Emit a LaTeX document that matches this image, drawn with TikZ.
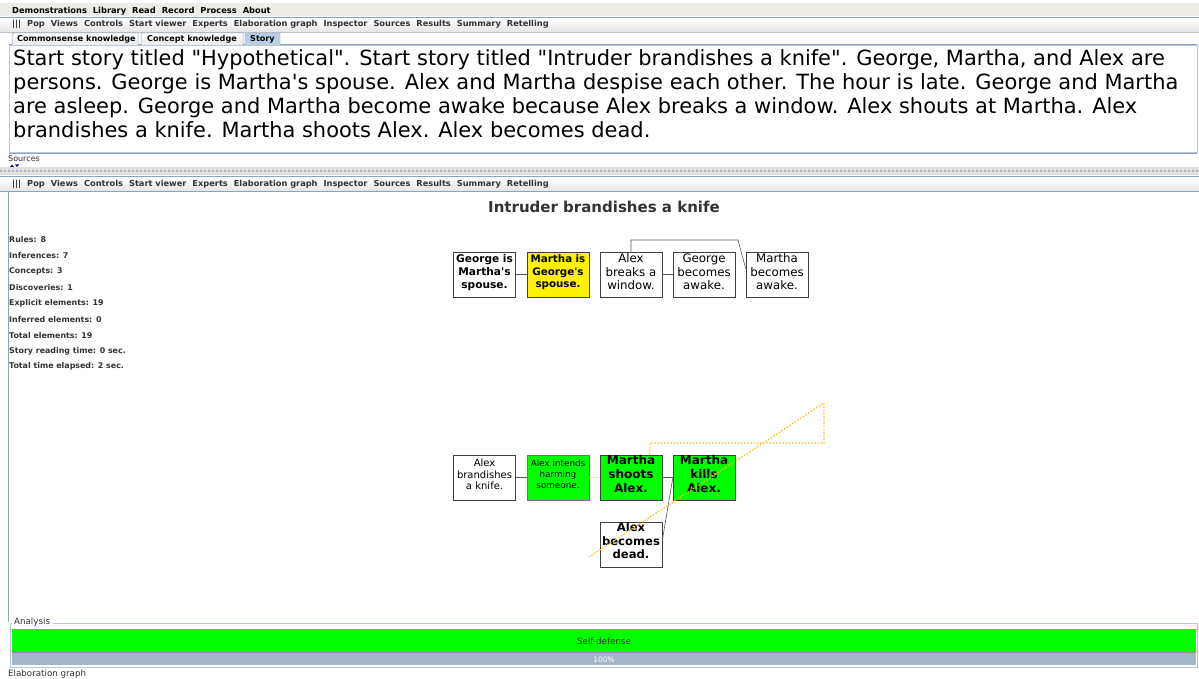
\documentclass[tikz,border=0pt]{standalone}
\usepackage{fontspec}
\setmainfont[Ligatures=TeXOff]{DejaVu Sans}
\usetikzlibrary{calc}
\definecolor{menubg}{HTML}{EDECE7}
\definecolor{edgeblue}{HTML}{8EA3B8}
\definecolor{frameblue}{HTML}{B8C8DA}
\definecolor{tabsel}{HTML}{B8CFE5}
\definecolor{limegreen}{HTML}{00FF00}
\definecolor{barblue}{HTML}{A3B5CB}
\definecolor{gold}{HTML}{FFC21A}
\definecolor{darktext}{HTML}{333333}
\tikzset{
  menutext/.style={anchor=west, inner sep=0pt, font=\bfseries\fontsize{8.3}{9}\selectfont, text=black},
  tooltext/.style={anchor=west, inner sep=0pt, font=\bfseries\fontsize{8.25}{9}\selectfont, text=darktext},
  stat/.style={anchor=west, inner sep=0pt, font=\bfseries\fontsize{7.9}{9}\selectfont, text=darktext},
  storyline/.style={anchor=base west, inner sep=0pt, font=\fontsize{20.95}{24}\selectfont},
  small/.style={anchor=west, inner sep=0pt, font=\fontsize{8.7}{9}\selectfont, text=darktext},
  box/.style={draw=black!75, line width=0.6pt, minimum width=62pt, minimum height=45pt,
    inner sep=0pt, align=center, text width=62pt, execute at end node={\par\vspace{#1}}},
  box/.default=5pt,
  link/.style={draw=black!65, line width=0.6pt},
  golddot/.style={draw=gold, line width=1.2pt, dash pattern=on 1.6pt off 1.6pt},
  tab/.style={draw=edgeblue, line width=0.5pt, top color=white, bottom color=black!8}
}
\begin{document}
\begin{tikzpicture}[x=1pt,y=-1pt]
\useasboundingbox (0,0) rectangle (1199,679);
\fill[white] (0,0) rectangle (1199,679);

% menu bar
\fill[menubg] (0,3) rectangle (1199,17);
\node[menutext] (menu) at (12,11) {Demonstrations\hspace{6pt}Library\hspace{6pt}Read\hspace{6pt}Record\hspace{6pt}Process\hspace{6pt}About};
% first toolbar
\shade[top color=white, bottom color=black!10] (0,17) rectangle (1199,32);
\draw[edgeblue] (0,17) -- (1199,17);
\draw[black!25] (0,32) -- (1199,32);
\node[tooltext] (tb1) at (12,24.5) {|||\hspace{6pt}Pop\hspace{6pt}Views\hspace{6pt}Controls\hspace{6pt}Start viewer\hspace{6pt}Experts\hspace{6pt}Elaboration graph\hspace{6pt}Inspector\hspace{6pt}Sources\hspace{6pt}Results\hspace{6pt}Summary\hspace{6pt}Retelling};

% tabs
\draw[edgeblue] (9,44.5) -- (1197,44.5);
\draw[tab] (12,45) -- (12,34) -- (14,33) -- (138,33) -- (138,45);
\draw[tab] (141,45) -- (141,34) -- (143,33) -- (243,33) -- (243,45);
\draw[draw=edgeblue, fill=tabsel] (245,45) -- (245,34) -- (247,33) -- (280,33) -- (280,45);
\node[tooltext, text=black, font=\bfseries\fontsize{8.1}{9}\selectfont] (t1) at (17,39) {Commonsense knowledge};
\node[tooltext, text=black, font=\bfseries\fontsize{8.1}{9}\selectfont] (t2) at (147,39) {Concept knowledge};
\node[tooltext, text=black, font=\bfseries\fontsize{8.1}{9}\selectfont] (t3) at (250,39) {Story};

% story text area
\draw[frameblue, line width=1pt] (9,46) rectangle (1197,153);
\draw[edgeblue, line width=0.6pt] (9,153.5) -- (1197,153.5);
\node[storyline] (s1) at (13,66) {Start story titled "Hypothetical". Start story titled "Intruder brandishes a knife". George, Martha, and Alex are};
\node[storyline] (s2) at (13,90) {persons. George is Martha's spouse. Alex and Martha despise each other. The hour is late. George and Martha};
\node[storyline] (s3) at (13,114) {are asleep. George and Martha become awake because Alex breaks a window. Alex shouts at Martha. Alex};
\node[storyline] (s4) at (13,138) {brandishes a knife. Martha shoots Alex. Alex becomes dead.};

% sources label and splitter
\node[tooltext, font=\fontsize{8}{9}\selectfont] (src) at (8,159) {Sources};
\fill[blue!60!black] (10,167) -- (12,164.5) -- (14,167) -- cycle;
\fill[blue!60!black] (15,164.5) -- (19,164.5) -- (17,167) -- cycle;
\fill[black!12] (0,167.5) rectangle (1199,175.5);
\draw[black!30, dotted, line width=2pt] (0,171.5) -- (1199,171.5);
% second toolbar
\shade[top color=white, bottom color=black!10] (0,177) rectangle (1199,191);
\draw[edgeblue] (0,176.5) -- (1199,176.5);
\draw[edgeblue] (0,191) -- (1199,191);
\node[tooltext] (tb2) at (12,184) {|||\hspace{6pt}Pop\hspace{6pt}Views\hspace{6pt}Controls\hspace{6pt}Start viewer\hspace{6pt}Experts\hspace{6pt}Elaboration graph\hspace{6pt}Inspector\hspace{6pt}Sources\hspace{6pt}Results\hspace{6pt}Summary\hspace{6pt}Retelling};
\draw[edgeblue, line width=0.8pt] (8.5,191) -- (8.5,622);

% graph title and statistics
\node[font=\bfseries\fontsize{15}{17}\selectfont, text=darktext] (title) at (604,207) {Intruder brandishes a knife};
\foreach \t [count=\i from 0] in {Rules: 8, Inferences: 7, Concepts: 3, Discoveries: 1, Explicit elements: 19, Inferred elements: 0, Total elements: 19, Story reading time: 0 sec., Total time elapsed: 2 sec.}
  \node[stat] (st\i) at (9,{240+15.85*\i}) {\t};

% top row of elements
\node[box=4pt, font=\bfseries\fontsize{10.6}{12.6}\selectfont] (n1) at (484.5,274.5) {George is\\Martha's\\spouse.};
\node[box=4pt, fill=yellow, font=\bfseries\fontsize{10.3}{12.6}\selectfont] (n2) at (558,274.5) {Martha is\\George's\\spouse.};
\node[box, font=\fontsize{11.8}{13.5}\selectfont] (n3) at (631,274.5) {Alex\\breaks a\\window.};
\node[box, font=\fontsize{11.8}{13.5}\selectfont] (n4) at (704,274.5) {George\\becomes\\awake.};
\node[box, font=\fontsize{11.8}{13.5}\selectfont] (n5) at (777,274.5) {Martha\\becomes\\awake.};

% bottom rows of elements
\node[box=6pt, font=\fontsize{10}{11.5}\selectfont] (n6) at (484.5,477.5) {Alex\\brandishes\\a knife.};
\node[box=6pt, fill=limegreen, draw=black!55, font=\fontsize{8.8}{11}\selectfont] (n7) at (558,477.5) {Alex intends\\harming\\someone.};
\node[box=6pt, fill=limegreen, font=\bfseries\fontsize{12}{14}\selectfont] (n8) at (631,477.5) {Martha\\shoots\\Alex.};
\node[box=6pt, fill=limegreen, font=\bfseries\fontsize{12}{14}\selectfont] (n9) at (704,477.5) {Martha\\kills\\Alex.};
\node[box=7pt, font=\bfseries\fontsize{11.6}{13.5}\selectfont] (n10) at (631,544.5) {Alex\\becomes\\dead.};

% connectors
\draw[link] (n1.east) -- (n2.west);
\draw[link] (n3.east) -- (n4.west);
\coordinate (k1) at (738,240);
\coordinate (k2) at ($(n5.north west)+(0,17)$);
\draw[link] (n3.north) |- (k1) -- (k2);
\draw[link] (n6.east) -- (n7.west);
\draw[link] (n8.east) -- (n9.west);
\coordinate (k3) at ($(n9.west)+(0,1)$);
\draw[link] ($(n10.east)+(0,-4)$) -- (k3);

% dotted trace
\draw[golddot] (n7.east) -- (n8.west);
\coordinate (o1) at ($(n8.north)+(19,0)$);
\coordinate (o2) at (824,443);
\coordinate (o3) at (824,403);
\coordinate (o4) at (589,557);
\draw[golddot] (o1) |- (o2) -- (o3) -- (o4);

% analysis panel
\draw[frameblue, line width=0.7pt] (53,623) -- (1197,623) -- (1197,667.5) -- (10,667.5) -- (10,623) -- (12,623);
\node[small] (an) at (14,622) {Analysis};
\fill[limegreen] (12,629) rectangle (1196,652);
\node[small, anchor=center] (sd) at (604,641) {Self-defense};
\fill[barblue] (12,653) rectangle (1196,665);
\draw[black!45] (12,652.5) -- (1196,652.5);
\node[small, anchor=center, text=white, font=\fontsize{7.5}{8}\selectfont] (pc) at (604,659.5) {100\%};
\node[small] (eg) at (8,674) {Elaboration graph};
\end{tikzpicture}
\end{document}
